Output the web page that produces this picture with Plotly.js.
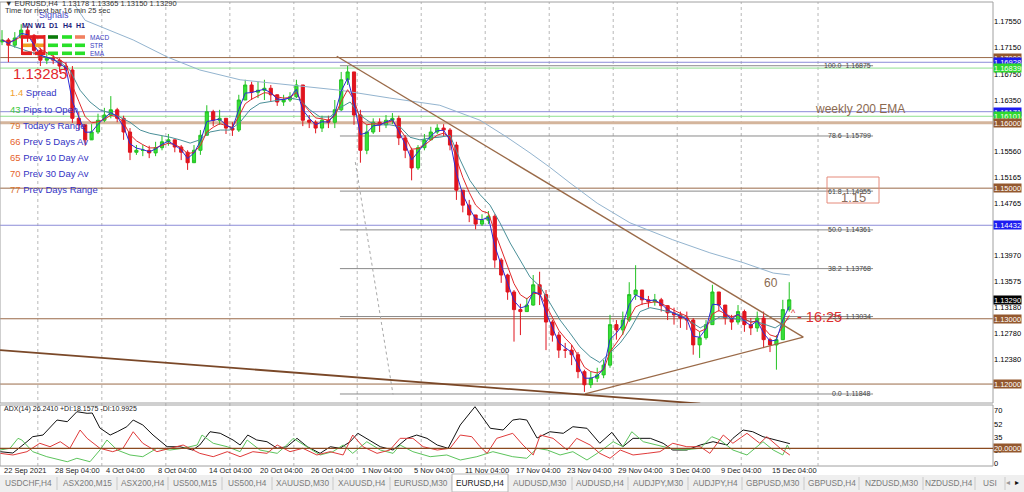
<!DOCTYPE html>
<html><head><meta charset="utf-8">
<script src="https://cdn.plot.ly/plotly-3.0.1.min.js"></script>
<style>html,body{margin:0;padding:0;background:#fff;overflow:hidden}#chart{width:1024px;height:492px}</style>
</head><body><div id="chart"></div>
<script>
// ---------- DATA (one candle per 12 hours, 3 H4 bars) ----------
const firstOpen = 1.1724;
const close = [
1.1727,1.1719,1.1730,1.1742,1.1734,1.1711,1.1696,1.1699,1.1696,1.1687,
1.1681,1.1607,1.1597,1.1574,1.1586,1.1604,1.1612,1.1620,1.1607,1.1586,
1.1555,1.1558,1.1558,1.1554,1.1562,1.1571,1.1574,1.1563,1.1555,1.1539,
1.1558,1.1581,1.1617,1.1604,1.1607,1.1592,1.1589,1.1635,1.1658,1.1647,
1.1650,1.1653,1.1643,1.1632,1.1635,1.1640,1.1658,1.1604,1.1601,1.1592,
1.1604,1.1601,1.1620,1.1666,1.1678,1.1612,1.1558,1.1586,1.1601,1.1597,
1.1604,1.1607,1.1577,1.1558,1.1531,1.1562,1.1574,1.1586,1.1592,1.1589,
1.1566,1.1497,1.1474,1.1459,1.1445,1.1451,1.1457,1.1390,1.1367,1.1341,
1.1314,1.1311,1.1321,1.1352,1.1337,1.1295,1.1275,1.1252,1.1252,1.1245,
1.1219,1.1199,1.1209,1.1214,1.1229,1.1291,1.1283,1.1298,1.1337,1.1344,
1.1329,1.1326,1.1329,1.1320,1.1309,1.1306,1.1301,1.1298,1.1260,1.1271,
1.1291,1.1341,1.1321,1.1301,1.1295,1.1311,1.1291,1.1286,1.1301,1.1268,
1.1260,1.1268,1.1314,1.1329];
const high = [
1.1742,1.1730,1.1739,1.1751,1.1748,1.1736,1.1715,1.1708,1.1705,1.1699,
1.1693,1.1687,1.1617,1.1597,1.1598,1.1614,1.1623,1.1641,1.1623,1.1611,
1.1592,1.1566,1.1566,1.1565,1.1571,1.1580,1.1583,1.1574,1.1566,1.1558,
1.1566,1.1589,1.1627,1.1620,1.1620,1.1607,1.1601,1.1643,1.1666,1.1663,
1.1663,1.1666,1.1658,1.1641,1.1643,1.1647,1.1666,1.1658,1.1612,1.1604,
1.1611,1.1611,1.1635,1.1678,1.1687,1.1678,1.1620,1.1597,1.1607,1.1607,
1.1612,1.1615,1.1611,1.1581,1.1562,1.1566,1.1583,1.1594,1.1598,1.1598,
1.1592,1.1571,1.1497,1.1482,1.1459,1.1460,1.1465,1.1460,1.1393,1.1369,
1.1344,1.1323,1.1332,1.1367,1.1372,1.1344,1.1298,1.1280,1.1263,1.1260,
1.1249,1.1222,1.1219,1.1225,1.1237,1.1306,1.1298,1.1311,1.1356,1.1382,
1.1341,1.1335,1.1338,1.1332,1.1321,1.1317,1.1311,1.1311,1.1301,1.1280,
1.1298,1.1352,1.1335,1.1321,1.1306,1.1321,1.1314,1.1301,1.1311,1.1311,
1.1271,1.1275,1.1329,1.1356];
const low = [
1.1719,1.1693,1.1715,1.1730,1.1724,1.1704,1.1687,1.1690,1.1690,1.1678,
1.1672,1.1600,1.1589,1.1565,1.1577,1.1583,1.1601,1.1607,1.1601,1.1574,
1.1543,1.1551,1.1549,1.1546,1.1549,1.1558,1.1565,1.1555,1.1543,1.1528,
1.1543,1.1551,1.1581,1.1595,1.1597,1.1583,1.1580,1.1586,1.1635,1.1635,
1.1638,1.1635,1.1632,1.1626,1.1626,1.1632,1.1638,1.1595,1.1592,1.1584,
1.1586,1.1592,1.1592,1.1618,1.1658,1.1597,1.1539,1.1552,1.1583,1.1586,
1.1592,1.1598,1.1566,1.1546,1.1512,1.1528,1.1558,1.1574,1.1583,1.1580,
1.1558,1.1482,1.1463,1.1448,1.1437,1.1442,1.1445,1.1378,1.1355,1.1329,
1.1265,1.1275,1.1311,1.1320,1.1321,1.1252,1.1265,1.1240,1.1240,1.1229,
1.1209,1.1188,1.1194,1.1203,1.1209,1.1225,1.1268,1.1275,1.1295,1.1329,
1.1321,1.1317,1.1320,1.1311,1.1298,1.1291,1.1286,1.1283,1.1245,1.1240,
1.1268,1.1291,1.1311,1.1291,1.1283,1.1291,1.1280,1.1275,1.1280,1.1255,
1.1249,1.1222,1.1268,1.1311];

// slower moving average (teal)
const tealBar = [1.25,5.9,9.1,10.6,12.2,13.75,15.3,16.9,18.4,20,21.6,23.1,24.7,26.25,27.8,29.4,30.9,32.5,34.1,35.6,37.2,38.75,40.3,41.9,43.4,45,46.6,48.1,49.7,51.25,52.8,54.4,55.9,57.5,59.1,60.6,62.2,63.75,65.3,66.9,68.4,70,71.6,73.1,74.7,76.25,77.8,79.4,80.9,82.5,84.1,85.6,87.2,88.75,90.3,91.9,93.4,95,96.6,98.1,99.7,101.25,102.8,105.9,109.1,112.2,115.3,118.4,120.8,123.1];
const tealVal = [1.1719,1.1704,1.1693,1.1681,1.1650,1.1632,1.1620,1.1615,1.1609,1.1601,1.1589,1.1584,1.1581,1.1578,1.1574,1.1569,1.1574,1.1586,1.1589,1.1589,1.1601,1.1620,1.1630,1.1632,1.1635,1.1638,1.1635,1.1620,1.1609,1.1609,1.1623,1.1632,1.1612,1.1601,1.1597,1.1597,1.1594,1.1578,1.1574,1.1577,1.1578,1.1581,1.1543,1.1512,1.1490,1.1474,1.1447,1.1416,1.1390,1.1364,1.1349,1.1324,1.1298,1.1278,1.1257,1.1242,1.1233,1.1248,1.1263,1.1283,1.1311,1.1317,1.1314,1.1306,1.1286,1.1303,1.1298,1.1294,1.1286,1.1301];
// long 200 EMA
const ema200Bar = [11.4,13.0,20.5,25.8,30.9,37.2,45.0,52.8,60.6,68.4,74.7,78.9,82.5,85.6,88.75,93.0,98.1,104.8,110.6,115.8,120.5,123.1];
const ema200Val = [1.1780,1.1757,1.1727,1.1701,1.1681,1.1666,1.1658,1.1650,1.1638,1.1627,1.1604,1.1578,1.1554,1.1532,1.1508,1.1477,1.1447,1.1421,1.1401,1.1386,1.1370,1.1367];

// ADX(14) panel
const adxBar = [-0.3,1.7,3.9,4.8,6.4,8.6,10.2,11.7,13.3,14.1,15.3,16.9,18.0,19.5,20.5,22.0,23.6,25.8,27.8,29.8,30.9,32.5,34.1,36.1,37.2,38.4,39.8,41.4,43.0,44.5,46.1,47.7,49.7,51.3,52.8,54.4,55.6,57.0,59.1,61.1,63.3,64.8,66.4,68.0,69.7,71.6,73.9,76.3,78.3,79.8,80.9,82.0,83.6,85.6,87.7,89.2,91.4,93.4,95.3,97.0,98.6,101.3,103.3,104.8,107.0,109.1,111.1,113.3,114.2,115.8,117.3,118.9,121.1,123.1];
const adxVal = [15.5,13.7,28.8,35.5,37.7,57.7,55.5,68.8,66.7,67.1,47.1,37.7,42.1,48.8,57.7,51.1,37.7,22.1,22.1,17.7,24.4,42.1,40.0,31.1,24.4,37.7,31.1,28.8,20.0,22.1,33.3,22.1,13.3,22.1,20.0,28.8,40.0,33.3,22.1,17.7,33.3,37.7,33.3,24.4,20.0,51.1,75.5,46.7,44.4,57.7,59.1,57.7,33.7,42.1,40.0,48.8,46.7,26.7,41.3,22.1,33.3,33.3,26.7,17.7,17.7,24.4,28.8,24.4,33.3,44.4,42.1,35.5,31.1,26.2];
const plusDIBar = [-0.3,1.25,2.5,3.1,4.8,7.0,10.2,11.7,13.75,15.3,16.4,18.0,20.0,22.0,24.2,26.25,28.3,30.5,31.25,33.0,35.2,37.2,38.3,40.3,43.0,44.5,45.5,47.7,49.7,51.7,53.3,54.8,57.0,59.1,61.1,62.2,64.2,66.9,69.5,71.6,74.2,76.7,79.8,82.0,83.6,85.2,87.2,89.2,91.4,93.4,95.5,97.0,98.4,100.2,102.3,104.4,106.4,109.1,110.9,112.2,114.2,116.4,118.9,120.5,122.0,122.7,123.1];
const plusDIVal = [17.7,20.0,33.3,31.1,15.5,8.8,2.1,6.7,2.1,17.7,31.1,17.7,11.1,8.8,20.0,17.7,20.0,24.4,37.7,26.7,22.1,15.5,31.1,17.7,13.3,24.4,33.3,22.1,11.1,15.5,24.4,13.3,28.8,17.7,13.3,24.4,15.5,8.8,11.1,4.4,8.8,15.5,8.8,6.7,20.0,17.7,11.1,15.5,4.4,15.5,28.8,22.1,42.1,28.8,24.4,20.0,17.7,20.0,35.5,31.1,17.7,11.1,28.8,17.7,11.1,24.4,18.2];
const minusDIBar = [-0.3,1.7,3.9,5.9,7.5,9.1,10.6,12.2,13.3,15.3,17.3,18.9,20.5,22.0,24.2,26.25,28.3,30.9,33.0,35.2,37.2,39.2,41.4,43.0,45.0,47.0,49.2,51.25,53.3,54.8,56.4,58.6,60.6,62.2,64.2,65.8,68.0,70.0,71.6,73.4,74.7,75.8,77.3,79.8,81.4,83.0,84.1,86.1,88.3,89.8,91.9,93.4,95.0,96.6,98.6,100.8,102.8,104.8,107.0,109.1,110.6,112.7,114.2,116.4,118.4,119.5,121.6,123.1];
const minusDIVal = [13.3,11.1,15.5,26.7,22.1,28.8,20.0,44.4,33.3,20.0,15.5,20.0,42.1,26.7,15.5,20.0,24.4,13.3,8.8,15.5,8.8,15.5,13.3,24.4,15.5,20.0,11.1,15.5,11.1,37.7,22.1,13.3,17.7,33.3,33.3,22.1,17.7,20.0,37.7,35.5,22.1,13.3,33.3,40.0,24.4,11.1,37.7,33.3,17.7,33.3,24.4,13.3,6.7,17.7,11.1,13.3,15.5,26.7,22.1,22.1,13.3,37.7,26.7,40.0,26.7,35.5,20.0,11.0];
const adxLevel = 20;

// horizontal price levels
const levelPrice = [1.17000,1.16928,1.16839,1.16171,1.16101,1.16000,1.15000,1.14432,1.13000,1.12000];
const levelKind  = ['brown','blue','green','blue','green','tan','brown','blue','brown','brown'];
const currentPrice = 1.13290;
// fibonacci retracement
const fibPct   = ['100.0','78.6','61.8','50.0','38.2','23.6','0.0'];
const fibPrice = [1.16875,1.15799,1.14955,1.14361,1.13768,1.13034,1.11848];
const fibFromBar = 52.8, fibToBar = 136.1;
// trend lines
const trendBar0 = [52.3, 91.1, -0.3, 55.2];
const trendP0   = [1.1702, 1.1185, 1.1252, 1.1540];
const trendBar1 = [125.2, 125.2, 109.1, 61.1];
const trendP1   = [1.1272, 1.1272, 1.1170, 1.1184];
// axes
const priceTicks = [1.17550,1.17150,1.16750,1.16350,1.15560,1.15165,1.14765,1.13970,1.13575,1.13180,1.12780,1.12380];
const adxTicks = [70,52,35,17,0];
const timeTickBar = [0,8,16,24,32,40,48,56,64,72,80,88,96,104,112,120];
const timeTickText = ['22 Sep 2021','28 Sep 04:00','4 Oct 04:00','8 Oct 04:00','14 Oct 04:00','20 Oct 04:00','26 Oct 04:00','1 Nov 04:00','5 Nov 04:00','11 Nov 04:00','17 Nov 04:00','23 Nov 04:00','29 Nov 04:00','3 Dec 04:00','9 Dec 04:00','15 Dec 04:00'];
const gridBar = [5.6,15.6,25.6,35.6,45.6,55.5,65.5,75.5,85.5,95.5,105.5,115.5,127.5];
// info panel
const statNum = ['1.4','43','79','66','65','70','77'];
const statLabel = ['Spread','Pips to Open',"Today's Range",'Prev 5 Days Av','Prev 10 Day Av','Prev 30 Day Av','Prev Days Range'];
const signalCols = ['MN','W1','D1','H4','H1'];
const signalRows = ['MACD','STR','EMA'];
const signalState = [
  ['sell','sell','weakbuy','buy','weaksell'],
  ['neutral','neutral','buy','buy','buy'],
  ['sell','sell','buy','buy','buy']];
const bigPrice = '1.13285';
const roundLevelText = '1.15';
const tabs = ['USDCHF,H4','ASX200,M15','ASX200,H4','US500,M15','US500,H4','XAUUSD,M30','XAUUSD,H4','EURUSD,M30','EURUSD,H4','AUDUSD,M30','AUDUSD,H4','AUDJPY,M30','AUDJPY,H4','GBPUSD,M30','GBPUSD,H4','NZDUSD,M30','NZDUSD,H4','USI'];
const activeTab = 'EURUSD,H4';

// ---------- LAYOUT HELPERS ----------
const W = 1024, H = 492, ML = 0, MR = 31, MT = 2, MB = 26;
const PW = W - ML - MR, PH = H - MT - MB;
const X = px => (px - ML) / PW;
const Y = py => (H - MB - py) / PH;
const FONT = 'Liberation Sans, Arial, sans-serif';

const bars = close.map((_, i) => i);
const open = close.map((c, i) => i === 0 ? firstOpen : close[i - 1]);
function ema(src, n) { const a = 2 / (n + 1); let p = src[0]; return src.map(v => (p = a * v + (1 - a) * p)); }

const lineColor = {brown:'#9a6a48', blue:'#8c8cd8', green:'#8fe08f', tan:'#d4b59c'};
const lineWidth = {brown:1, blue:1, green:1, tan:3};
const boxColor  = {brown:'#94582e', blue:'#1c1cf0', green:'#2ed82e', tan:'#94582e'};
const sigColor  = {sell:'#e41e1e', neutral:'#f0a020', buy:'#28e028', weakbuy:'#0a7a0a', weaksell:'#f08060'};

const shapes = [];
const ann = [];

// grid
gridBar.forEach(b => shapes.push({type:'line', xref:'x', yref:'paper', x0:b, x1:b, y0:0, y1:1, line:{color:'#b8b8b8', width:1, dash:'dot'}, layer:'below'}));
// frames
shapes.push({type:'rect', xref:'paper', yref:'paper', x0:0, x1:1, y0:Y(403), y1:1, line:{color:'#a0a0a0', width:1}});
shapes.push({type:'rect', xref:'paper', yref:'paper', x0:0, x1:1, y0:0, y1:Y(405), line:{color:'#a0a0a0', width:1}});
// levels
levelPrice.forEach((p, i) => {
  const k = levelKind[i];
  shapes.push({type:'line', xref:'paper', yref:'y', x0:0, x1:1, y0:p, y1:p, line:{color:lineColor[k], width:lineWidth[k]}, layer:'below'});
});
// fib lines
fibPrice.forEach(p => shapes.push({type:'line', xref:'x', yref:'y', x0:fibFromBar, x1:fibToBar, y0:p, y1:p, line:{color:'#8a8a8a', width:1}, layer:'below'}));
// trend lines
const trendStyle = [{color:'#9a6a48', width:1.4}, {color:'#9a6a48', width:1.2}, {color:'#7a4828', width:1.8}, {color:'#a8a8a8', width:1, dash:'dot'}];
trendBar0.forEach((b, i) => shapes.push({type:'line', xref:'x', yref:'y', x0:b, y0:trendP0[i], x1:trendBar1[i], y1:trendP1[i], line:trendStyle[i]}));
// ADX level
shapes.push({type:'line', xref:'paper', yref:'y2', x0:0, x1:1, y0:adxLevel, y1:adxLevel, line:{color:'#8b4a20', width:1.3}});

// right-side value boxes
function valueBox(yref, v, txt, bg) {
  ann.push({xref:'paper', x:1, xanchor:'left', yref:yref, y:v, text:txt, showarrow:false, font:{family:FONT, size:7.5, color:'#fff'}, bgcolor:bg, borderpad:0, width:27, height:8});
}
levelPrice.forEach((p, i) => valueBox('y', p, p.toFixed(5), boxColor[levelKind[i]]));
valueBox('y', currentPrice, currentPrice.toFixed(5), '#000');
valueBox('y2', adxLevel, adxLevel.toFixed(4), '#94582e');

// fib labels
fibPrice.forEach((p, i) => ann.push({xref:'x', x:fibToBar, xanchor:'right', yref:'y', y:p, yanchor:'middle', text:fibPct[i] + '\u00a0\u00a0' + p.toFixed(5), showarrow:false, font:{family:FONT, size:7, color:'#444'}}));

// time labels on the shared x axis (text starts at its bar, as in the terminal)
timeTickBar.forEach((b, i) => ann.push({xref:'x', x:b, xanchor:'left', yref:'paper', y:Y(470.5), yanchor:'middle', text:timeTickText[i], showarrow:false, font:{family:FONT, size:7.5, color:'#222'}}));

// header
function txt(px, py, t, size, color, anchor, extra) {
  ann.push(Object.assign({xref:'paper', yref:'paper', x:X(px), y:Y(py), xanchor:anchor || 'left', yanchor:'middle', text:t, showarrow:false, font:{family:FONT, size:size, color:color}}, extra || {}));
}
txt(3, 3.5, '\u25BC EURUSD,H4  1.13178 1.13365 1.13150 1.13290', 7.5, '#333');
txt(3, 10.5, 'Time for next bar 16 min 25 sec', 7.5, '#333');
txt(37, 14.5, 'Signals', 9, '#4848c8');
const colX = [[22,32],[35,45],[48,58],[62,72],[75,85]];
const rowY = [37, 45.3, 53.3];
signalCols.forEach((c, j) => txt((colX[j][0] + colX[j][1]) / 2, 25.5, '<b>' + c + '</b>', 7, '#1a1a7a', 'center'));
signalRows.forEach((r, i) => {
  txt(88, rowY[i], r, 6.5, '#3a3ac0');
  signalCols.forEach((c, j) => shapes.push({type:'rect', xref:'paper', yref:'paper', x0:X(colX[j][0]), x1:X(colX[j][1]), y0:Y(rowY[i] + 1.8), y1:Y(rowY[i] - 1.8), fillcolor:sigColor[signalState[i][j]], line:{width:0}}));
});
[[21,23],[43.5,45.5]].forEach(v => shapes.push({type:'rect', xref:'paper', yref:'paper', x0:X(v[0]), x1:X(v[1]), y0:Y(55), y1:Y(35), fillcolor:'#e41e1e', line:{width:0}}));
txt(11, 73, bigPrice, 15, '#e3262b');
const statColor = ['#f0a030','#3cc83c','#d8732e','#e5632b','#e5632b','#e5632b','#d8732e'];
statNum.forEach((n, i) => txt(8, 93 + i * 16.05, '<span style="color:' + statColor[i] + '">' + n + '</span> ' + statLabel[i], 9.5, '#3434c4'));

txt(2, 409, 'ADX(14) 26.2410 +DI:18.1575 -DI:10.9925', 7, '#222');
txt(813, 109, 'weekly 200 EMA', 12, '#8b6a50');
shapes.push({type:'rect', xref:'paper', yref:'paper', x0:X(827), x1:X(879), y0:Y(203), y1:Y(177), line:{color:'#e58a7a', width:1}});
txt(853, 197.5, roundLevelText, 13, '#8a6e5e', 'center');
txt(771, 283, '60', 12, '#8b6a50', 'center');
txt(789, 313, '^', 9, '#e03030');
txt(795, 317, '- 16:25', 14.5, '#dd3030');

// tabs
const tabEdge = [0,57,117,168,222,272,333,390,452,508,572,628,688,742,804,859,923,975,1005];
shapes.push({type:'rect', xref:'paper', yref:'paper', x0:0, x1:X(1024), y0:Y(492), y1:Y(475), fillcolor:'#efefef', line:{width:0}});
tabs.forEach((t, i) => {
  const a = tabEdge[i], b = tabEdge[i + 1];
  const act = t === activeTab;
  if (act) shapes.push({type:'rect', xref:'paper', yref:'paper', x0:X(a), x1:X(b), y0:Y(492), y1:Y(474), fillcolor:'#ffffff', line:{color:'#b8b8b8', width:1}});
  else shapes.push({type:'line', xref:'paper', yref:'paper', x0:X(b), x1:X(b), y0:Y(490), y1:Y(477), line:{color:'#c9c9c9', width:1}});
  txt((a + b) / 2, 483.5, t, 8.3, act ? '#222' : '#7a7a7a', 'center');
});
txt(1008, 483, '\u25C2', 8, '#999', 'center');
txt(1017, 483, '\u25B8', 8, '#111', 'center');

// ---------- TRACES ----------
const traces = [
  {type:'scatter', mode:'lines', x:ema200Bar, y:ema200Val, xaxis:'x', yaxis:'y', line:{color:'#93b4cf', width:1}, hoverinfo:'skip'},
  {type:'candlestick', x:bars, open:open, high:high, low:low, close:close, xaxis:'x', yaxis:'y', whiskerwidth:0,
   increasing:{line:{color:'#22c322', width:1}, fillcolor:'#38e038'}, decreasing:{line:{color:'#e0141e', width:1}, fillcolor:'#e0141e'}, hoverinfo:'skip'},
  {type:'scatter', mode:'lines', x:tealBar, y:tealVal, xaxis:'x', yaxis:'y', line:{color:'#4a8f98', width:1}, hoverinfo:'skip'},
  {type:'scatter', mode:'lines', x:bars, y:ema(close, 4), xaxis:'x', yaxis:'y', line:{color:'#e0282a', width:1}, hoverinfo:'skip'},
  {type:'scatter', mode:'lines', x:bars, y:ema(close, 2), xaxis:'x', yaxis:'y', line:{color:'#2b2bd6', width:1}, hoverinfo:'skip'},
  {type:'scatter', mode:'lines', x:adxBar, y:adxVal, xaxis:'x', yaxis:'y2', line:{color:'#111', width:1}, hoverinfo:'skip'},
  {type:'scatter', mode:'lines', x:plusDIBar, y:plusDIVal, xaxis:'x', yaxis:'y2', line:{color:'#5cc45c', width:1}, hoverinfo:'skip'},
  {type:'scatter', mode:'lines', x:minusDIBar, y:minusDIVal, xaxis:'x', yaxis:'y2', line:{color:'#e03a3a', width:1}, hoverinfo:'skip'}
];

const layout = {
  width:W, height:H, margin:{l:ML, r:MR, t:MT, b:MB, pad:0},
  paper_bgcolor:'#fff', plot_bgcolor:'#fff', showlegend:false,
  font:{family:FONT, size:8, color:'#000'},
  xaxis:{anchor:'y2', range:[-0.3125, 154.84], rangeslider:{visible:false}, showgrid:false, zeroline:false, showline:false,
         showticklabels:false, ticks:''},
  yaxis:{domain:[Y(403), 1], anchor:'x', side:'right', range:[1.11710, 1.17851], showgrid:false, zeroline:false, showline:false,
         tickmode:'array', tickvals:priceTicks, ticktext:priceTicks.map(v => v.toFixed(5)), ticks:'', tickfont:{family:FONT, size:7.5, color:'#000'}},
  yaxis2:{domain:[0, Y(404)], anchor:'x', side:'right', range:[-3.6, 79.1], showgrid:false, zeroline:false, showline:false,
          tickmode:'array', tickvals:adxTicks, ticktext:adxTicks.map(String), ticks:'', tickfont:{family:FONT, size:7.5, color:'#000'}},
  shapes:shapes, annotations:ann
};
Plotly.newPlot('chart', traces, layout, {staticPlot:true, displayModeBar:false});
</script>
</body></html>
